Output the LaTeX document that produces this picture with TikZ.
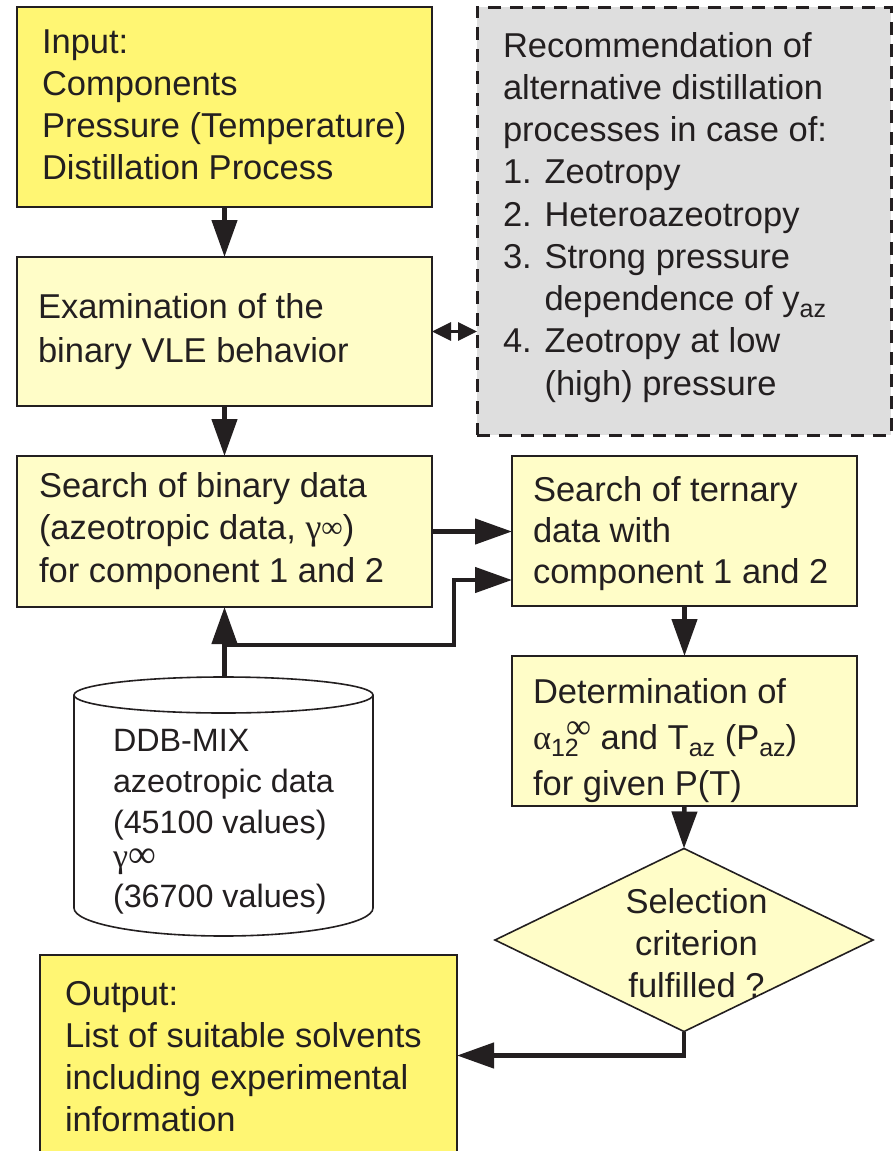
\documentclass[tikz,border=0pt]{standalone}
\usepackage{fontspec}
\setmainfont{Liberation Sans}
\newfontfamily\grk{Liberation Serif}
\usetikzlibrary{arrows.meta,shapes.geometric,calc}

\definecolor{ink}{RGB}{35,31,32}
\definecolor{hiyellow}{RGB}{255,246,115}
\definecolor{paleyellow}{RGB}{255,253,200}
\definecolor{panelgray}{RGB}{222,222,222}

% lowered index in a smaller size (az, 12)
\newcommand\sbs[1]{\raisebox{-7pt}{\fontsize{25}{25}\selectfont #1}}
% stacked lines with a fixed baseline pitch; the first baseline is the node's base
\newcommand\txtlines[2]{\vtop{\baselineskip=#1\lineskiplimit=-100pt\lineskip=0pt #2}}
\newcommand\midline[1]{\hbox to 0pt{\hss #1\hss}}

\begin{document}
\begin{tikzpicture}[x=1pt,y=-1pt,
  font=\fontsize{34.5}{42}\selectfont,
  box/.style={draw=ink, line width=1.6pt, rectangle, inner sep=0pt, outer sep=0pt},
  txt/.style={anchor=base west, inner sep=0pt, outer sep=0pt, text=ink},
  arr/.style={draw=ink, line width=4.5pt, -{Triangle[length=37pt,width=25pt]}},
  dbl/.style={draw=ink, line width=3pt,
    {Triangle[length=19pt,width=18pt]}-{Triangle[length=19pt,width=18pt]}}]

\fill[white] (0,0) rectangle (895,1151);
\useasboundingbox (0,0) rectangle (895,1151);

% boxes
\node[box, fill=hiyellow, minimum width=415pt, minimum height=200pt] (in) at (224.5,107) {};
\node[box, fill=paleyellow, minimum width=415pt, minimum height=149pt] (ex) at (224.5,331.5) {};
\node[draw=ink, line width=3pt, dash pattern=on 13pt off 9pt, fill=panelgray,
      rectangle, inner sep=0pt, outer sep=0pt,
      minimum width=414pt, minimum height=428pt] (rec) at (684,221) {};
\node[box, fill=paleyellow, minimum width=415pt, minimum height=151pt] (bin) at (224.5,531.5) {};
\node[box, fill=paleyellow, minimum width=345pt, minimum height=150pt] (ter) at (684.5,531) {};
\node[box, fill=paleyellow, minimum width=345pt, minimum height=150pt] (det) at (684.5,731) {};
\node[draw=ink, line width=1.6pt, fill=paleyellow, diamond, inner sep=0pt, outer sep=0pt,
      minimum width=378pt, minimum height=183pt] (dia) at (684,940) {};
\node[box, fill=hiyellow, minimum width=417pt, minimum height=201pt] (out) at (248.5,1055.5) {};

% database cylinder
\draw[draw=ink, line width=1.6pt, fill=white]
  (74,695) -- (74,908) arc[start angle=180, end angle=360, x radius=149.5pt, y radius=28pt]
  -- (373,695);
\draw[draw=ink, line width=1.6pt, fill=white] (223.5,695) ellipse [x radius=149.5pt, y radius=18pt];
\coordinate (dbtop) at (224.5,677);

% texts
\node[txt] (inT) at (42,53) {\txtlines{42.3pt}{%
  \hbox{Input:}\hbox{Components}\hbox{Pressure (Temperature)}\hbox{Distillation Process}}};
\node[txt] (exT) at (38,318) {\txtlines{44pt}{%
  \hbox{Examination of the}\hbox{binary VLE behavior}}};
\node[txt] (recT) at (503,57) {\txtlines{42.25pt}{%
  \hbox{Recommendation of}
  \hbox{alternative distillation}
  \hbox{processes in case of:}
  \hbox{1. Zeotropy}
  \hbox{2. Heteroazeotropy}
  \hbox{3. Strong pressure}
  \hbox{\phantom{3. }dependence of y\sbs{az}}
  \hbox{4. Zeotropy at low}
  \hbox{\phantom{4. }(high) pressure}}};
\node[txt] (binT) at (39,497) {\txtlines{42.5pt}{%
  \hbox{Search of binary data}
  \hbox{(azeotropic data, {\grk\fontsize{36}{36}\selectfont γ}\raisebox{2pt}{\grk\fontsize{30}{30}\selectfont ∞})}
  \hbox{for component 1 and 2}}};
\node[txt] (terT) at (533,501) {\txtlines{41pt}{%
  \hbox{Search of ternary}\hbox{data with}\hbox{component 1 and 2}}};
\node[txt] (detT) at (533,703) {\txtlines{46pt}{%
  \hbox{Determination of}
  \hbox{{\grk α}\rlap{\sbs{12}}\hspace{15pt}\raisebox{11pt}{\grk\fontsize{35}{35}\selectfont ∞} and T\sbs{az} (P\sbs{az})}
  \hbox{for given P(T)}}};
\node[txt, font=\fontsize{32.3}{40}\selectfont] (dbT) at (113,751) {\txtlines{41pt}{%
  \hbox{DDB-MIX}
  \hbox{azeotropic data}
  \hbox{(45100 values)}
  \vskip-7pt
  \hbox{{\grk\fontsize{34}{34}\selectfont γ}{\grk\fontsize{39}{39}\selectfont ∞}}
  \vskip-1pt
  \hbox{(36700 values)}}};
\node[txt] (diaT) at (696,913) {\txtlines{42pt}{%
  \midline{Selection}\midline{criterion}\midline{fulfilled ?}}};
\node[txt] (outT) at (65,1005) {\txtlines{42.3pt}{%
  \hbox{Output:}
  \hbox{List of suitable solvents}
  \hbox{including experimental}
  \hbox{information}}};

% connectors
\draw[arr] (in.south) -- (ex.north);
\draw[arr] (ex.south) -- (bin.north);
\draw[dbl] (ex.east) -- (ex.east -| rec.west);
\draw[arr] (bin.east) -- (bin.east -| ter.west);
\draw[arr] (dbtop) -- (bin.south);
\coordinate (fork) at (224.5,645);
\coordinate (bend) at (454,645);
\draw[arr] (fork) -- (bend) |- ($(ter.west)+(0,49)$);
\draw[arr] (ter.south) -- (det.north);
\draw[arr] (det.south) -- (dia.north);
\draw[arr] (dia.south) |- (out.east);

\end{tikzpicture}
\end{document}
